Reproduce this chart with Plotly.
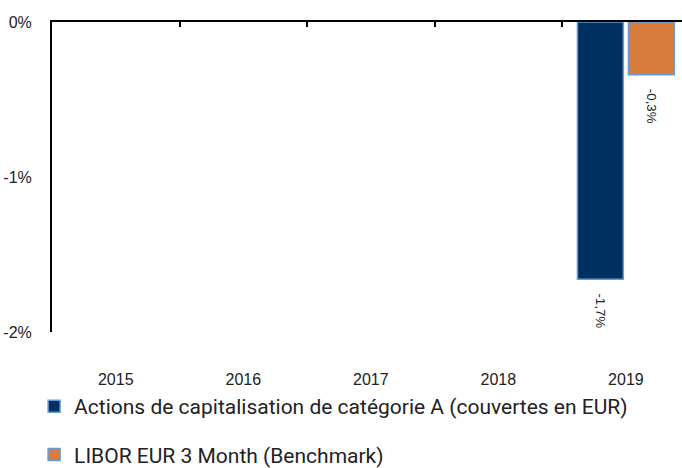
import plotly.graph_objects as go

years = ["2015", "2016", "2017", "2018", "2019"]
fund_name = "Actions de capitalisation de catégorie A (couvertes en EUR)"
bench_name = "LIBOR EUR 3 Month (Benchmark)"
fund_values = [None, None, None, None, -1.66]
bench_values = [None, None, None, None, -0.34]
fund_labels = ["", "", "", "", "-1,7%"]
bench_labels = ["", "", "", "", "-0,3%"]
y_ticks = [0, -1, -2]
y_tick_text = ["0%", "-1%", "-2%"]

PAD = "\u00a0" * 3
TICK_FONT = "Liberation Sans"
LEG_FONT = "Roboto"

fig = go.Figure()
fig.add_trace(go.Bar(
    x=years, y=fund_values, name=fund_name,
    text=[PAD + t if t else "" for t in fund_labels],
    textposition="outside", textangle=90, cliponaxis=False,
    textfont=dict(size=14, color="#222222", family=TICK_FONT),
    marker=dict(color="#00305f", line=dict(color="#6a9bd8", width=1.5)),
    legendgroup="a",
))
fig.add_trace(go.Bar(
    x=years, y=bench_values, name=bench_name,
    text=[PAD + t if t else "" for t in bench_labels],
    textposition="outside", textangle=90, cliponaxis=False,
    textfont=dict(size=14, color="#222222", family=TICK_FONT),
    marker=dict(color="#d67d3e", line=dict(color="#6a9bd8", width=1.5)),
    legendgroup="b",
))
fig.add_trace(go.Scatter(
    x=years, y=[None] * len(years), xaxis="x2", mode="none",
    showlegend=False, hoverinfo="skip",
))

fig.update_layout(
    width=682, height=468,
    margin=dict(l=52, r=0, t=22, b=136, autoexpand=False),
    paper_bgcolor="white", plot_bgcolor="white",
    font=dict(family=TICK_FONT, color="#222222", size=16),
    barmode="group", bargap=0.2, bargroupgap=0.1,
    xaxis=dict(type="category", categoryarray=years, range=[-0.5, 4.44],
               showline=False, showgrid=False, ticks="", ticklabelstandoff=36,
               tickfont=dict(size=16)),
    xaxis2=dict(type="category", categoryarray=years, overlaying="x", side="top",
                matches="x", showline=True, linecolor="black", linewidth=2,
                ticks="inside", ticklen=5, tickwidth=2, tickcolor="black",
                tickson="boundaries", showticklabels=False, showgrid=False),
    yaxis=dict(range=[-2, 0], tickvals=y_ticks, ticktext=y_tick_text,
               showline=True, linecolor="black", linewidth=2, showgrid=False,
               zeroline=False, ticks="", ticklabelstandoff=15,
               tickfont=dict(size=16)),
    showlegend=True,
    legend=dict(orientation="v", xref="container", yref="container",
                x=0.05, y=0.175, xanchor="left", yanchor="top",
                font=dict(size=21, color="#222222", family=LEG_FONT),
                tracegroupgap=18, traceorder="grouped",
                bgcolor="rgba(0,0,0,0)"),
)

fig.write_html("out.html", config={"displayModeBar": False},
               post_script="document.body.style.margin='0';")
